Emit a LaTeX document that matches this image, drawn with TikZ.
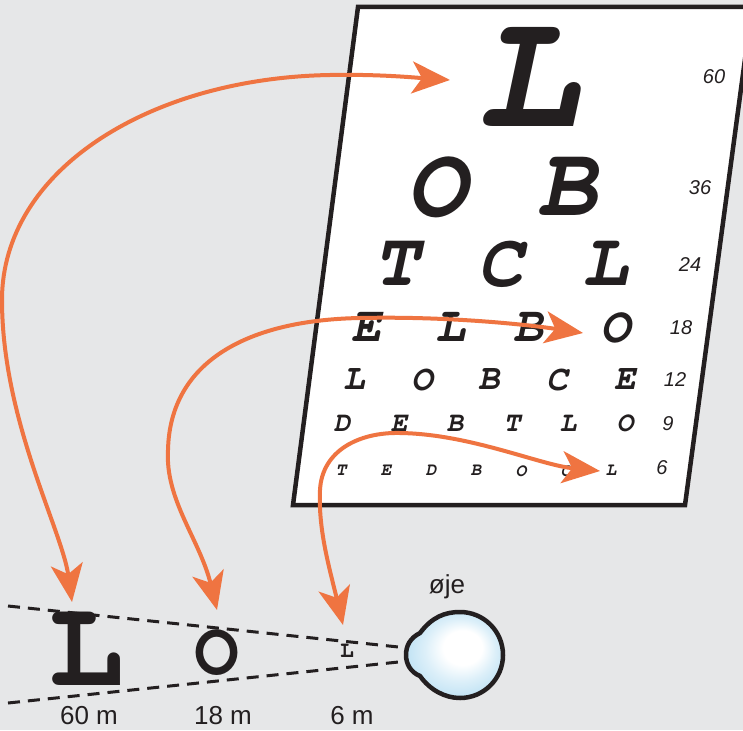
\documentclass[tikz,border=0pt]{standalone}
\usepackage{fontspec}
\setmainfont{Liberation Sans}
\usetikzlibrary{arrows.meta}

\definecolor{bggray}{HTML}{E6E7E8}
\definecolor{sightorange}{HTML}{EF7441}
\definecolor{inkblack}{HTML}{231F20}
\definecolor{eyeblue}{HTML}{A9D8F0}

% Courier-like letters for the chart
\newcommand{\chartfont}[1]{\fontencoding{OT1}\fontfamily{pcr}\fontseries{b}\fontshape{sl}\fontsize{#1pt}{#1pt}\selectfont}
\newcommand{\plainfont}[1]{\fontencoding{OT1}\fontfamily{pcr}\fontseries{b}\fontshape{n}\fontsize{#1pt}{#1pt}\selectfont}

\pgfdeclareradialshading{eyeglow}{\pgfpoint{6bp}{6bp}}{color(0bp)=(white);color(10bp)=(white);color(18bp)=(eyeblue!40);color(27bp)=(eyeblue!75);color(34bp)=(eyeblue)}

\begin{document}
\begin{tikzpicture}[x=1pt,y=-1pt,
    letter/.style={inner sep=0pt,text=inkblack},
    sizenum/.style={inner sep=0pt,text=inkblack,font=\fontsize{20pt}{20pt}\selectfont\itshape},
    distlabel/.style={inner sep=0pt,text=inkblack,font=\fontsize{26pt}{26pt}\selectfont},
    sightarrow/.style={line width=4pt,draw=sightorange,{Stealth[length=38pt,width=32pt,inset=10pt]}-{Stealth[length=38pt,width=32pt,inset=10pt]}},
    sightline/.style={line width=3pt,draw=inkblack,dash pattern=on 12pt off 8pt}]

        % Background
        \fill[bggray] (0,0) rectangle (743,730);
        \useasboundingbox (0,0) rectangle (743,730);
        \clip (0,0) rectangle (743,730);

        % Chart board
        \draw[line width=4.5pt,draw=inkblack,fill=white] (358,7) -- (752,7) -- (685,505) -- (293,505) -- cycle;

        % Chart rows
        \node[letter,font=\chartfont{170}] (row60-1) at (527,80) {L};
        \foreach \ch/\x [count=\i] in {O/436,B/567}
            \node[letter,font=\chartfont{100}] (row36-\i) at (\x,188) {\ch};
        \foreach \ch/\x [count=\i] in {T/396,C/500,L/605}
            \node[letter,font=\chartfont{76}] (row24-\i) at (\x,265) {\ch};
        \foreach \ch/\x [count=\i] in {E/366,L/450,B/528,O/615}
            \node[letter,font=\chartfont{50}] (row18-\i) at (\x,328) {\ch};
        \foreach \ch/\x [count=\i] in {L/354,O/422,B/489,C/557,E/625}
            \node[letter,font=\chartfont{36}] (row12-\i) at (\x,380) {\ch};
        \foreach \ch/\x [count=\i] in {D/342,E/399,B/455,T/512,L/568,O/625}
            \node[letter,font=\chartfont{28}] (row9-\i) at (\x,424) {\ch};
        \foreach \ch/\x [count=\i] in {T/341,E/386,D/431,B/476,O/521,C/566,L/611}
            \node[letter,font=\chartfont{18}] (row6-\i) at (\x,471) {\ch};

        % Row numbers
        \foreach \n/\x/\y in {60/714/77,36/700/188,24/690/265,18/681/328,12/675/380,9/668/424,6/662/468}
            \node[sizenum] (num\n) at (\x,\y) {\n};

        % Lines of sight
        \coordinate (fartop) at (8,606);
        \coordinate (farbot) at (8,703);
        \coordinate (eyetop) at (408,648);
        \coordinate (eyebot) at (408,661);
        \draw[sightline] (fartop) -- (eyetop);
        \draw[sightline] (farbot) -- (eyebot);

        % Letters at distance
        \node[letter,font=\plainfont{126}] (farL) at (86,651) {L};
        \node[letter,font=\plainfont{75}] (midO) at (217,653) {O};
        \node[letter,font=\plainfont{23}] (nearL) at (347,651) {L};
        \node[distlabel] (dist60) at (89,716) {60 m};
        \node[distlabel] (dist18) at (223,716) {18 m};
        \node[distlabel] (dist6) at (352,716) {6 m};

        % Eye
        \shadedraw[shading=eyeglow,draw=inkblack,line width=4.5pt] (420,633) .. controls (432,617) and (445,612) .. (460,612) arc[start angle=-90,end angle=90,radius=43] .. controls (445,698) and (430,690) .. (420,676) .. controls (410,672) and (406,663) .. (406,655) .. controls (406,646) and (410,638) .. (420,633) -- cycle;
        \node[distlabel,anchor=base] (eyelabel) at (447,593) {øje};

        % Arrows from chart to letters
        \draw[sightarrow] ([shift={(-14pt,49pt)}]farL.center) .. controls (62,530) and (2,420) .. (2,300) .. controls (2,170) and (150,78) .. (330,75) .. controls (380,74) and (420,78) .. ([xshift=-77pt]row60-1.center);
        \draw[sightarrow] ([yshift=43pt]midO.center) .. controls (200,540) and (165,500) .. (168,450) .. controls (170,360) and (250,320) .. (360,318) .. controls (450,316) and (530,325) .. ([shift={(-32pt,-5pt)}]row18-4.center);
        \draw[sightarrow] ([shift={(-4pt,26pt)}]nearL.center) .. controls (330,570) and (318,530) .. (320,490) .. controls (322,450) and (360,432) .. (400,433) .. controls (470,434) and (540,465) .. ([xshift=-11pt]row6-7.center);

\end{tikzpicture}
\end{document}
